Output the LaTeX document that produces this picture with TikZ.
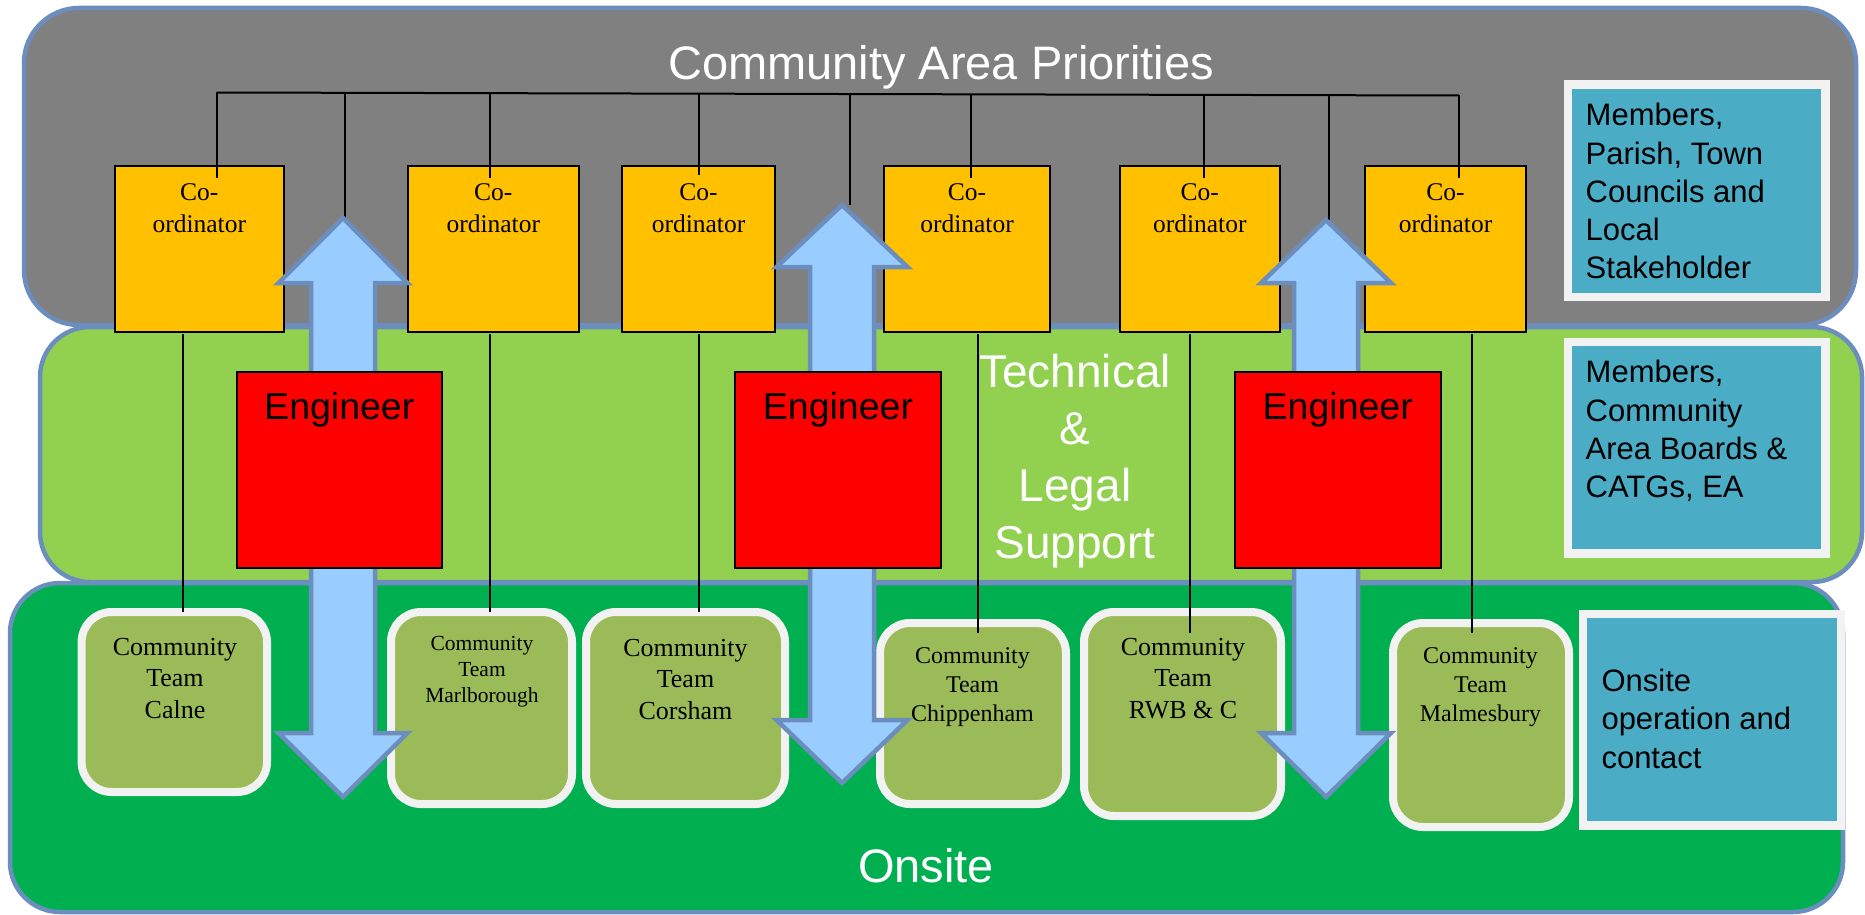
\documentclass[tikz,border=0pt]{standalone}
\usepackage{fontspec}
\setmainfont{Liberation Serif}
\setsansfont{Liberation Sans}
\definecolor{edgeblue}{HTML}{6C8EBF}
\definecolor{bandgray}{HTML}{808080}
\definecolor{lightgreen}{HTML}{92D050}
\definecolor{darkgreen}{HTML}{00B050}
\definecolor{coordyellow}{HTML}{FFC000}
\definecolor{engred}{HTML}{FF0000}
\definecolor{teamgreen}{HTML}{9BBB59}
\definecolor{teamedge}{HTML}{F2F2F2}
\definecolor{infoblue}{HTML}{4BACC6}
\definecolor{arrowblue}{HTML}{99CCFF}
\begin{document}
\begin{tikzpicture}[x=1pt,y=-1pt,
  every node/.style={inner sep=0pt,outer sep=0pt},
  band/.style={draw=edgeblue,line width=4.5pt,rounded corners=50pt},
  coordbox/.style={draw=black,line width=2pt,fill=coordyellow,minimum height=166pt},
  coordtxt/.style={anchor=north,align=center,font=\fontsize{25.5}{32.4}\selectfont},
  engbox/.style={draw=black,line width=2pt,fill=engred,minimum height=196pt},
  engtxt/.style={anchor=base,font=\sffamily\fontsize{37.5}{45}\selectfont},
  teambox/.style={draw=teamedge,line width=8pt,fill=teamgreen,rounded corners=30pt},
  teamtxt/.style={anchor=north,align=center},
  infobox/.style={draw=teamedge,line width=8.2pt,fill=infoblue},
  infotxt/.style={anchor=north west,align=left,font=\sffamily\fontsize{31}{38.3}\selectfont},
  bigtxt/.style={text=white,font=\sffamily\fontsize{47}{57}\selectfont},
  link/.style={draw=black,line width=2pt},
  bigarrow/.style={draw=edgeblue,line width=4.5pt,fill=arrowblue,line join=miter}
]
\useasboundingbox (0,0) rectangle (1865,915);

% bands
\node[band,fill=bandgray,rounded corners=55pt,minimum width=1832pt,minimum height=317pt] (prio) at (940,166.5) {};
\node[bigtxt,anchor=base] (priot) at (941,80) {Community Area Priorities};
\node[band,fill=lightgreen,minimum width=1822pt,minimum height=255pt] (tech) at (951,454.5) {};
\node[bigtxt,anchor=north,align=center,font=\sffamily\fontsize{46}{57}\selectfont] (techt) at (1075,354) {Technical\\\&\\Legal\\Support};
\node[band,fill=darkgreen,minimum width=1833pt,minimum height=329pt] (site) at (926.5,747.5) {};
\node[bigtxt,anchor=base] (sitet) at (926,882) {Onsite};

% info boxes
\node[infobox,minimum width=257.5pt,minimum height=212pt] (b1) at (1696.75,190.6) {};
\node[infotxt] (b1t) at (1585.7,103.3) {Members,\\Parish, Town\\Councils and\\Local\\Stakeholder};
\node[infobox,minimum width=257.5pt,minimum height=211.4pt] (b2) at (1696.75,447.7) {};
\node[infotxt] (b2t) at (1585.7,360.5) {Members,\\Community\\Area Boards \&\\CATGs, EA};
\node[infobox,minimum width=257.4pt,minimum height=211.3pt] (b3) at (1711.9,719.85) {};
\node[infotxt] (b3t) at (1601.5,669) {Onsite\\operation and\\contact};

% co-ordinators
\node[coordbox,minimum width=168.5pt] (c1) at (199.25,249) {};
\node[coordbox,minimum width=171.4pt] (c2) at (493.3,249) {};
\node[coordbox,minimum width=153pt] (c3) at (698.5,249) {};
\node[coordbox,minimum width=166pt] (c4) at (967,249) {};
\node[coordbox,minimum width=160.4pt] (c5) at (1199.8,249) {};
\node[coordbox,minimum width=161pt] (c6) at (1445.5,249) {};
\foreach \n in {1,...,6}{
  \node[coordtxt] (c\n t) at ([yshift=-17.7pt]c\n.north) {Co-\\ordinator};
}

% community teams
\node[teambox,minimum width=185.4pt,minimum height=180pt] (t1) at (174.3,702) {};
\node[teambox,minimum width=181pt,minimum height=192pt] (t2) at (481.5,708) {};
\node[teambox,minimum width=199pt,minimum height=192pt] (t3) at (685.5,708) {};
\node[teambox,minimum width=186pt,minimum height=181pt] (t4) at (973,713.5) {};
\node[teambox,minimum width=197pt,minimum height=204pt] (t5) at (1182.5,714) {};
\node[teambox,minimum width=176pt,minimum height=204pt] (t6) at (1481,725) {};
\node[teamtxt,font=\fontsize{26}{31.5}\selectfont] (t1t) at (175,638.2) {Community\\Team\\Calne};
\node[teamtxt,font=\fontsize{21.5}{26}\selectfont] (t2t) at (482,636.3) {Community\\Team\\Marlborough};
\node[teamtxt,font=\fontsize{26}{31.5}\selectfont] (t3t) at (685.5,638.9) {Community\\Team\\Corsham};
\node[teamtxt,font=\fontsize{24}{29}\selectfont] (t4t) at (972.5,647.6) {Community\\Team\\Chippenham};
\node[teamtxt,font=\fontsize{26}{31.5}\selectfont] (t5t) at (1183,638.2) {Community\\Team\\RWB \& C};
\node[teamtxt,font=\fontsize{24}{29}\selectfont] (t6t) at (1480.5,647.6) {Community\\Team\\Malmesbury};

% bus and drops
\coordinate (busL) at (217,92.5);
\coordinate (busR) at (1459,95.5);
\coordinate (bus2) at (345,92.8);
\coordinate (bus3) at (490,93.2);
\coordinate (bus4) at (699,93.7);
\coordinate (bus5) at (849.5,94.0);
\coordinate (bus6) at (971,94.3);
\coordinate (bus7) at (1204,94.9);
\coordinate (bus8) at (1329.4,95.2);
\coordinate (a1t) at (343,218);
\coordinate (a2t) at (842,205);
\coordinate (a3t) at (1326,220);
\draw[link] (busL) -- (busR);
\draw[link] (busL) -- ([yshift=-12pt]c1.north -| busL);
\draw[link] (bus2) -- (a1t -| bus2);
\draw[link] (bus3) -- ([yshift=-12pt]c2.north -| bus3);
\draw[link] (bus4) -- ([yshift=-9pt]c3.north -| bus4);
\draw[link] (bus5) -- (a2t -| bus5);
\draw[link] (bus6) -- ([yshift=-12pt]c4.north -| bus6);
\draw[link] (bus7) -- ([yshift=-12pt]c5.north -| bus7);
\draw[link] (bus8) -- (a3t -| bus8);
\draw[link] (busR) -- ([yshift=-12pt]c6.north -| busR);

% co-ordinator to team links
\coordinate (l1) at (183,612);
\coordinate (l2) at (490,612);
\coordinate (l3) at (699,612);
\coordinate (l4) at (978,633);
\coordinate (l5) at (1190,633);
\coordinate (l6) at (1472,633);
\foreach \n in {1,...,6}{
  \draw[link] ([yshift=-2pt]c\n.south -| l\n) -- (l\n);
}

% double arrows
\draw[bigarrow] (a1t) -- (407.5,283) -- (375,283) -- (375,733) -- (407.5,733) -- (343,797)
  -- (278.5,733) -- (311,733) -- (311,283) -- (278.5,283) -- cycle;
\draw[bigarrow] (a2t) -- (907.5,267) -- (874,267) -- (874,720) -- (907.5,720) -- (842,783)
  -- (776.5,720) -- (810,720) -- (810,267) -- (776.5,267) -- cycle;
\draw[bigarrow] (a3t) -- (1391,283) -- (1358,283) -- (1358,733) -- (1391,733) -- (1326,797)
  -- (1261,733) -- (1294,733) -- (1294,283) -- (1261,283) -- cycle;

% engineers
\node[engbox,minimum width=205.4pt] (e1) at (339.3,470) {};
\node[engbox,minimum width=206pt] (e2) at (838,470) {};
\node[engbox,minimum width=205.5pt] (e3) at (1337.75,470) {};
\foreach \n in {1,2,3}{
  \node[engtxt] (e\n t) at ([yshift=-47pt]e\n.north) {Engineer};
}
\end{tikzpicture}
\end{document}
